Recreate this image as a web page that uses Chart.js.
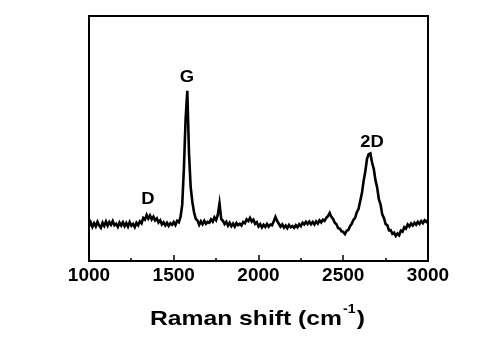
<!DOCTYPE html>
<html>
<head>
<meta charset="utf-8">
<script src="https://cdn.jsdelivr.net/npm/chart.js@4.4.1/dist/chart.umd.min.js"></script>
<style>
  html, body { margin: 0; padding: 0; background: #fff; }
  #wrap { width: 501px; height: 347px; }
</style>
</head>
<body>
<div id="wrap"><canvas id="raman"></canvas></div>
<script>
const shiftStart = 1000;
const shiftStep = 10;
const intensity = [
    14.2, 15.8, 13.9, 15.4, 14.1, 16.0, 14.5, 13.6, 15.6, 14.3,
    16.1, 14.4, 15.9, 14.8, 16.3, 14.6, 15.2, 13.9, 15.7, 14.5,
    15.8, 14.2, 15.5, 14.0, 15.9, 14.4, 15.1, 13.8, 15.6, 14.6,
    16.2, 15.4, 17.6, 16.9, 18.8, 17.3, 18.6, 17.0, 18.1, 16.6,
    17.4, 15.7, 16.6, 14.9, 15.8, 14.5, 15.6, 14.3, 15.4, 14.8,
    15.9, 14.7, 16.4, 15.8, 18.0, 23.0, 38.0, 58.0, 69.5, 44.0,
    30.0, 24.0, 19.8, 17.2, 16.5, 14.8, 16.2, 15.0, 16.4, 15.2,
    16.0, 15.6, 17.0, 16.1, 17.8, 16.7, 18.9, 23.5, 17.2, 16.4,
    15.1, 16.0, 14.4, 15.6, 14.2, 15.3, 14.0, 15.5, 14.6, 15.2,
    14.5, 15.9, 15.4, 17.0, 16.3, 17.6, 16.1, 16.9, 15.2, 15.8,
    14.1, 15.0, 13.7, 14.8, 13.9, 15.1, 14.0, 14.9, 14.6, 16.2,
    18.0, 16.4, 15.2, 14.0, 14.9, 13.6, 14.5, 13.4, 14.7, 13.8,
    14.3, 13.5, 14.6, 13.8, 15.0, 14.2, 15.6, 14.9, 16.0, 15.1,
    16.1, 15.0, 15.9, 14.9, 16.2, 15.3, 16.6, 15.7, 16.9, 16.4,
    17.6, 18.3, 19.6, 18.0, 17.2, 15.6, 15.0, 13.4, 13.2, 12.1,
    11.9, 11.0, 12.3, 12.6, 14.2, 15.2, 16.8, 17.6, 19.9, 21.2,
    24.5, 27.6, 32.6, 36.5, 41.6, 43.6, 43.9, 40.2, 37.6, 33.0,
    30.0, 25.2, 23.1, 19.0, 17.6, 15.0, 14.6, 12.5, 12.6, 11.1,
    11.6, 10.2, 11.2, 10.5, 12.4, 12.0, 13.8, 13.2, 14.9, 14.1,
    15.3, 14.5, 15.6, 14.8, 16.0, 15.1, 16.3, 15.4, 16.6, 16.0,
    16.8
];

const majorTicks = [1000, 1500, 2000, 2500, 3000];
const minorTicks = [1250, 1750, 2250, 2750];

const peakNames = ['D', 'G', '2D'];
const peakLabelShift = [1348, 1578, 2670];
const peakLabelLevel = [25, 75, 48.5];

const points = intensity.map((v, i) => ({ x: shiftStart + i * shiftStep, y: v }));

const FONT = '"Liberation Sans", Arial, sans-serif';

const framePlugin = {
    id: 'frame',
    afterDraw(chart) {
        const { ctx, chartArea: a, scales } = chart;
        const xs = scales.x, ys = scales.y;
        ctx.save();
        ctx.strokeStyle = '#000';
        ctx.lineWidth = 2;
        ctx.strokeRect(a.left, a.top, a.right - a.left, a.bottom - a.top);

        // inward ticks on the bottom axis
        ctx.lineWidth = 1.5;
        ctx.beginPath();
        majorTicks.forEach((v) => {
            const px = Math.round(xs.getPixelForValue(v));
            ctx.moveTo(px, a.bottom);
            ctx.lineTo(px, a.bottom - 6);
        });
        minorTicks.forEach((v) => {
            const px = Math.round(xs.getPixelForValue(v));
            ctx.moveTo(px, a.bottom);
            ctx.lineTo(px, a.bottom - 3);
        });
        ctx.stroke();

        // peak labels
        ctx.fillStyle = '#000';
        ctx.font = 'bold 16px ' + FONT;
        ctx.textAlign = 'center';
        ctx.textBaseline = 'middle';
        peakNames.forEach((name, i) => {
            const px = xs.getPixelForValue(peakLabelShift[i]);
            const py = ys.getPixelForValue(peakLabelLevel[i]);
            ctx.save();
            ctx.translate(px, py);
            ctx.scale(1.15, 1);
            ctx.fillText(name, 0, 0);
            ctx.restore();
        });

        // axis title with superscript
        const main = 'Raman shift (cm';
        const sup = '-1';
        const close = ')';
        const bigFont = 'bold 21px ' + FONT;
        const smallFont = 'bold 12px ' + FONT;
        ctx.font = bigFont;
        const w1 = ctx.measureText(main).width;
        const w3 = ctx.measureText(close).width;
        ctx.font = smallFont;
        const w2 = ctx.measureText(sup).width + 2;
        const total = w1 + w2 + w3;
        const sx = 215 / total;
        ctx.save();
        ctx.translate(257.5, 325);
        ctx.scale(sx, 1);
        ctx.textAlign = 'left';
        ctx.textBaseline = 'alphabetic';
        let x0 = -total / 2;
        ctx.font = bigFont;
        ctx.fillText(main, x0, 0);
        ctx.font = smallFont;
        ctx.fillText(sup, x0 + w1 + 1, -12);
        ctx.font = bigFont;
        ctx.fillText(close, x0 + w1 + w2, 0);
        ctx.restore();
        ctx.restore();
    },
};

new Chart(document.getElementById('raman'), {
    type: 'line',
    data: {
        datasets: [{
            data: points,
            borderColor: '#000',
            borderWidth: 2.6,
            pointRadius: 0,
            tension: 0,
            fill: false,
        }],
    },
    options: {
        responsive: true,
        maintainAspectRatio: false,
        animation: false,
        layout: { padding: { left: 89, right: 73, top: 16, bottom: 56 } },
        plugins: { legend: { display: false }, tooltip: { enabled: false } },
        scales: {
            x: {
                type: 'linear',
                min: 1000,
                max: 3000,
                afterBuildTicks(scale) {
                    scale.ticks = majorTicks.map((v) => ({ value: v }));
                },
                afterFit(scale) {
                    scale.height = 30;
                },
                grid: { display: false, drawTicks: false },
                border: { display: false },
                ticks: {
                    color: '#000',
                    padding: 3,
                    maxRotation: 0,
                    font: { family: FONT, size: 19, weight: 'bold' },
                    callback: (v) => String(v),
                },
            },
            y: {
                display: false,
                min: 0,
                max: 100,
            },
        },
    },
    plugins: [framePlugin],
});
</script>
</body>
</html>
